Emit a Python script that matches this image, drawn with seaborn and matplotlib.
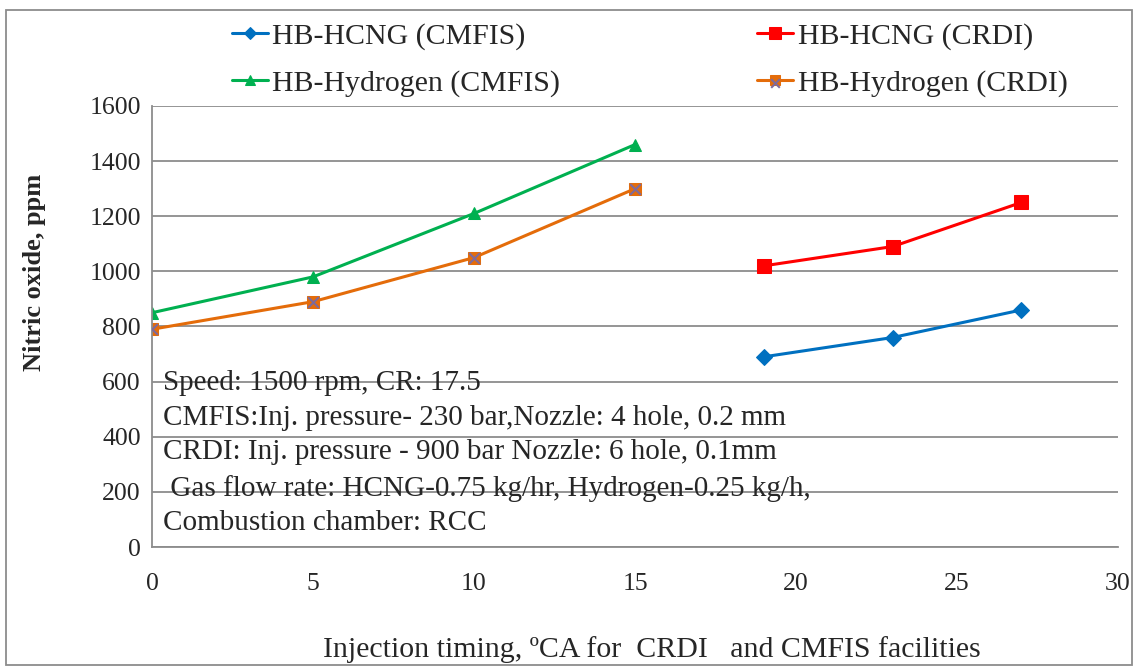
import numpy as np
import pandas as pd
import matplotlib
matplotlib.use("Agg")
import matplotlib.pyplot as plt
from matplotlib.patches import Rectangle
from matplotlib.legend_handler import HandlerTuple
import seaborn as sns

# data
cmfis_timing = [0, 5, 10, 15]
crdi_timing = [19, 23, 27]
hcng_cmfis = [690, 760, 860]
hcng_crdi = [1020, 1090, 1250]
hydrogen_cmfis = [850, 980, 1210, 1460]
hydrogen_crdi = [790, 890, 1050, 1300]

sns.set_style("white")
plt.rcParams["font.family"] = ["Liberation Serif", "DejaVu Serif"]

fig = plt.figure(figsize=(11.38, 6.67), dpi=100)
ax = fig.add_axes([0.1336, 0.1799, 0.8488, 0.6612])

blue, red, green, orange = "#0070C0", "#FF0000", "#00B050", "#E46C0A"

sns.lineplot(x=crdi_timing, y=hcng_cmfis, ax=ax, color=blue, marker="D",
             markersize=8, markeredgecolor=blue, lw=2.2)
sns.lineplot(x=crdi_timing, y=hcng_crdi, ax=ax, color=red, marker="s",
             markersize=10, markeredgecolor=red, lw=2.2)
sns.lineplot(x=cmfis_timing, y=hydrogen_cmfis, ax=ax, color=green, marker="^",
             markersize=9, markeredgecolor=green, lw=2.2)
sns.lineplot(x=cmfis_timing, y=hydrogen_crdi, ax=ax, color=orange, marker="s",
             markersize=9, markeredgecolor=orange, lw=2.2)
xs = ax.scatter(cmfis_timing, hydrogen_crdi, marker="x", s=60, color="#7F6A9A",
                linewidths=1.5, zorder=5)
lines = ax.get_lines()

ax.set_xlim(0, 30)
ax.set_ylim(0, 1600)
ax.set_xticks(np.arange(0, 31, 5))
ax.set_yticks(np.arange(0, 1601, 200))
ax.yaxis.grid(True, color="#8C8C8C", lw=1.3)
ax.set_axisbelow(True)
for s in ["top", "right"]:
    ax.spines[s].set_visible(False)
for s in ["left", "bottom"]:
    ax.spines[s].set_color("#8C8C8C")
    ax.spines[s].set_linewidth(1.3)
ax.tick_params(axis="x", direction="out", length=6, color="#8C8C8C", pad=13, labelsize=18.5)
ax.tick_params(axis="y", direction="out", length=6, color="#8C8C8C", pad=2, labelsize=18.5)
ax.set_xlabel("")
ax.set_ylabel("")

note = ("Speed: 1500 rpm, CR: 17.5\n"
        "CMFIS:Inj. pressure- 230 bar,Nozzle: 4 hole, 0.2 mm\n"
        "CRDI: Inj. pressure - 900 bar Nozzle: 6 hole, 0.1mm\n"
        " Gas flow rate: HCNG-0.75 kg/hr, Hydrogen-0.25 kg/h,\n"
        "Combustion chamber: RCC")
ax.text(0.011, 0.402, note, transform=ax.transAxes, fontsize=21,
        va="top", ha="left", linespacing=1.44)

fig.text(35 / 1138, 1 - 272 / 667, "Nitric oxide, ppm", rotation=90,
         ha="center", va="center", fontsize=19, fontweight="bold")
fig.text(652 / 1138, 1 - 650 / 667,
         "Injection timing, \u00baCA for  CRDI   and CMFIS facilities",
         ha="center", va="center", fontsize=21.5)

handles = [lines[0], lines[2], lines[1], (lines[3], xs)]
labels = ["HB-HCNG (CMFIS)", "HB-Hydrogen (CMFIS)", "HB-HCNG (CRDI)", "HB-Hydrogen (CRDI)"]
leg = fig.legend(handles, labels, ncol=2, loc="upper left",
                 bbox_to_anchor=(205 / 1138, 1 + 4 / 667),
                 frameon=False, fontsize=21.5, handlelength=1.2, handletextpad=0.15,
                 columnspacing=6.6, labelspacing=0.65, markerscale=0.8,
                 handler_map={tuple: HandlerTuple(ndivide=1, pad=0)})

fig.add_artist(Rectangle((0.005, 0.003), 0.99, 0.982, transform=fig.transFigure,
                         fill=False, edgecolor="#8C8C8C", lw=1.3))

fig.savefig("out.png", dpi=100)
